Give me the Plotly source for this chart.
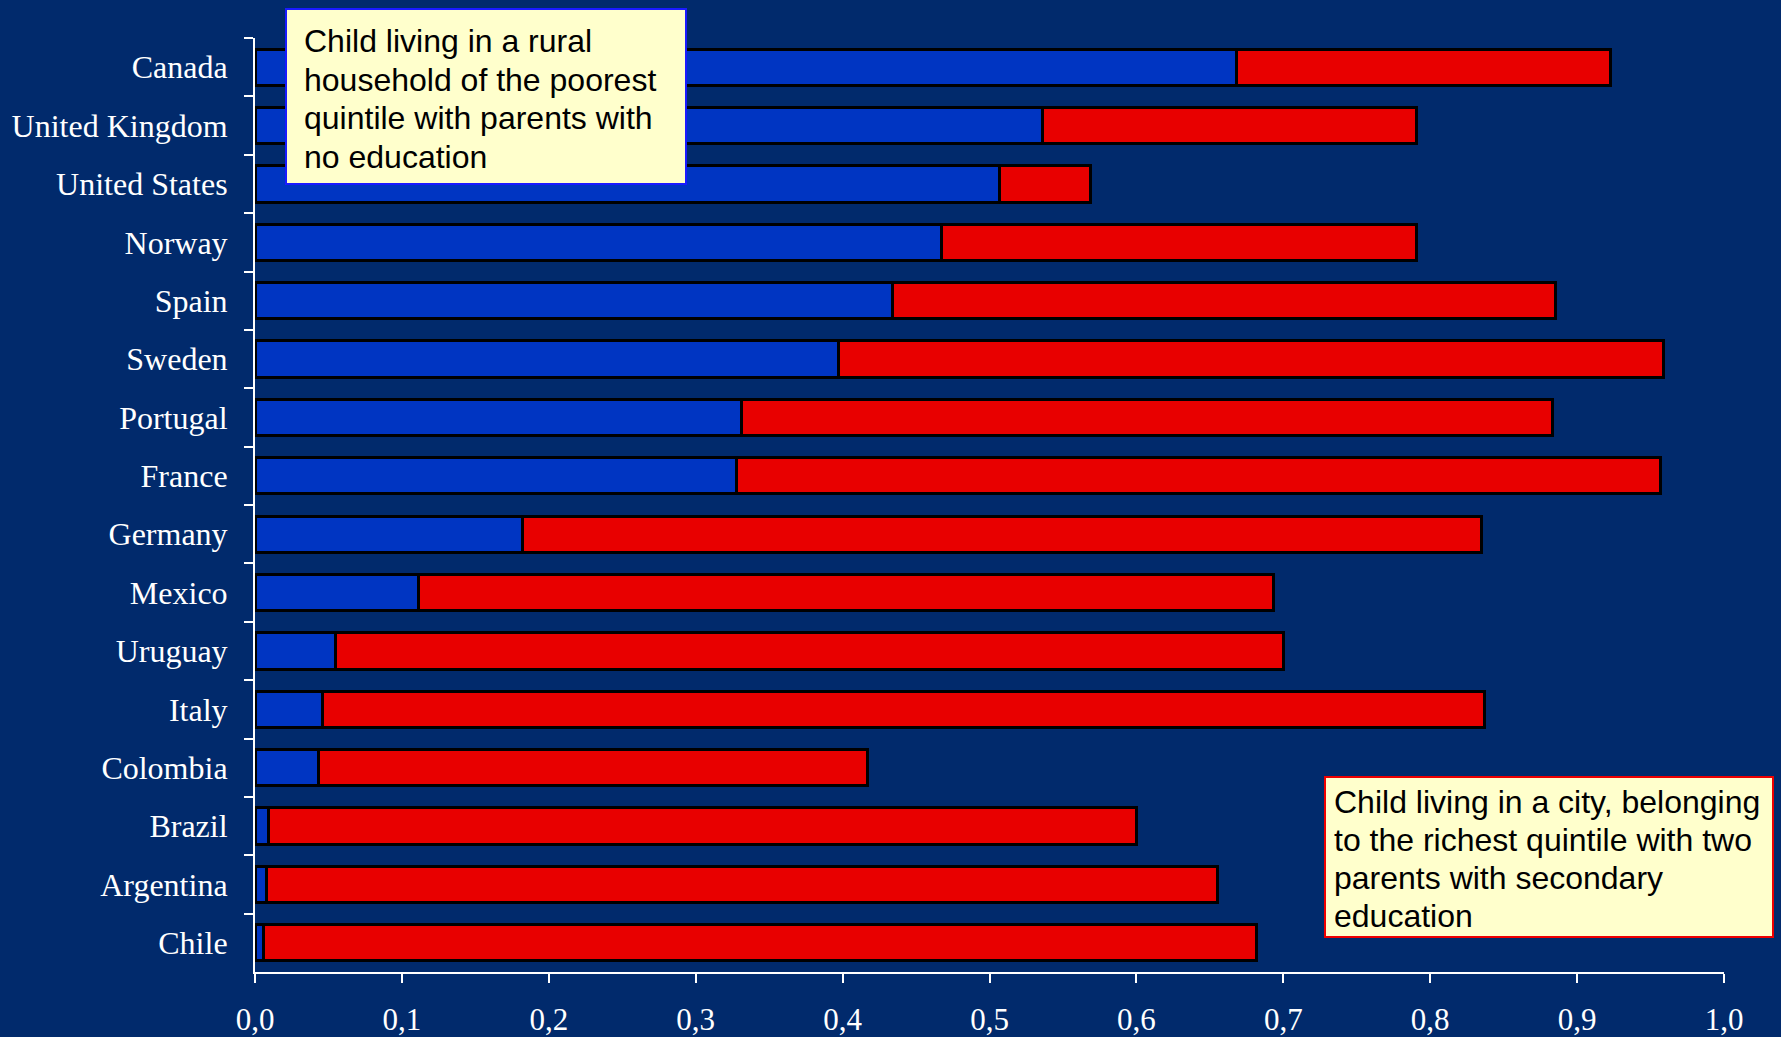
import plotly.graph_objects as go

# countries, top to bottom
countries = ["Canada", "United Kingdom", "United States", "Norway", "Spain", "Sweden",
             "Portugal", "France", "Germany", "Mexico", "Uruguay", "Italy", "Colombia",
             "Brazil", "Argentina", "Chile"]

# blue segment: child in rural household, poorest quintile, parents with no education
poor_rural = [0.668, 0.536, 0.507, 0.467, 0.434, 0.397, 0.331, 0.328, 0.182, 0.111,
              0.055, 0.046, 0.043, 0.009, 0.008, 0.006]

# red segment: extra for child in a city, richest quintile, parents with secondary education
rich_city_extra = [0.255, 0.255, 0.062, 0.324, 0.451, 0.562, 0.552, 0.629, 0.653, 0.582,
                   0.645, 0.791, 0.374, 0.591, 0.647, 0.676]

x_ticks = [0.0, 0.1, 0.2, 0.3, 0.4, 0.5, 0.6, 0.7, 0.8, 0.9, 1.0]
x_labels = ["0,0", "0,1", "0,2", "0,3", "0,4", "0,5", "0,6", "0,7", "0,8", "0,9", "1,0"]

note_poor = ["Child living in a rural", "household of the poorest",
             "quintile with parents with", "no education"]
note_rich = ["Child living in a city, belonging", "to the richest quintile with two",
             "parents with secondary", "education"]

bg = "#012a6c"
W, H = 1781, 1037
L, R, T, B = 255, 57, 38, 65


def px_x(p):
    # pixel column -> paper x
    return (p - L) / (W - L - R)


def px_y(p):
    # pixel row -> paper y
    return (H - B - p) / (H - T - B)


fig = go.Figure()

fig.add_trace(go.Bar(
    y=countries, x=poor_rural, orientation="h",
    marker=dict(color="#0035c2", line=dict(color="black", width=3)),
    name="poor rural",
))
fig.add_trace(go.Bar(
    y=countries, x=rich_city_extra, orientation="h",
    marker=dict(color="#e80000", line=dict(color="black", width=3)),
    name="rich city",
))


def note_box(lines, x0, y0, x1, y1, text_x, first_y, step, border):
    fig.add_shape(type="rect", xref="paper", yref="paper",
                  x0=px_x(x0), x1=px_x(x1), y0=px_y(y1), y1=px_y(y0),
                  fillcolor="#ffffcc", line=dict(color=border, width=2), layer="above")
    for i, line in enumerate(lines):
        fig.add_annotation(
            xref="paper", yref="paper", x=px_x(text_x), y=px_y(first_y + i * step),
            xanchor="left", yanchor="middle", text=line, showarrow=False,
            font=dict(family="Liberation Sans, Arial", size=32, color="black"),
        )


note_box(note_poor, 286, 9, 686, 184, 302, 41, 38.6, "#1a1aff")
note_box(note_rich, 1325, 777, 1773, 937, 1332, 802, 38.0, "#ee0000")

fig.update_layout(
    barmode="stack",
    bargap=0.38,
    width=W, height=H,
    paper_bgcolor=bg, plot_bgcolor=bg,
    margin=dict(l=L, r=R, t=T, b=B),
    showlegend=False,
    font=dict(family="Liberation Serif, Times New Roman", color="white", size=31),
    xaxis=dict(
        range=[0, 1.0], tickvals=x_ticks, ticktext=x_labels,
        showgrid=False, zeroline=False, automargin=False,
        showline=True, linecolor="white", linewidth=2,
        ticks="outside", ticklen=9, tickwidth=2, tickcolor="white",
        tickfont=dict(size=31), ticklabelstandoff=10,
    ),
    yaxis=dict(
        categoryorder="array", categoryarray=countries,
        range=[15.5, -0.5], automargin=False,
        showgrid=False, zeroline=False,
        showline=True, linecolor="white", linewidth=2,
        ticks="outside", ticklen=9, tickwidth=2, tickcolor="white",
        tickson="boundaries",
        tickfont=dict(size=32),
        ticklabelstandoff=19,
    ),
)

fig.write_html("out.html", config={"displayModeBar": False},
               post_script="document.body.style.margin='0';document.body.style.background='%s';" % bg)
